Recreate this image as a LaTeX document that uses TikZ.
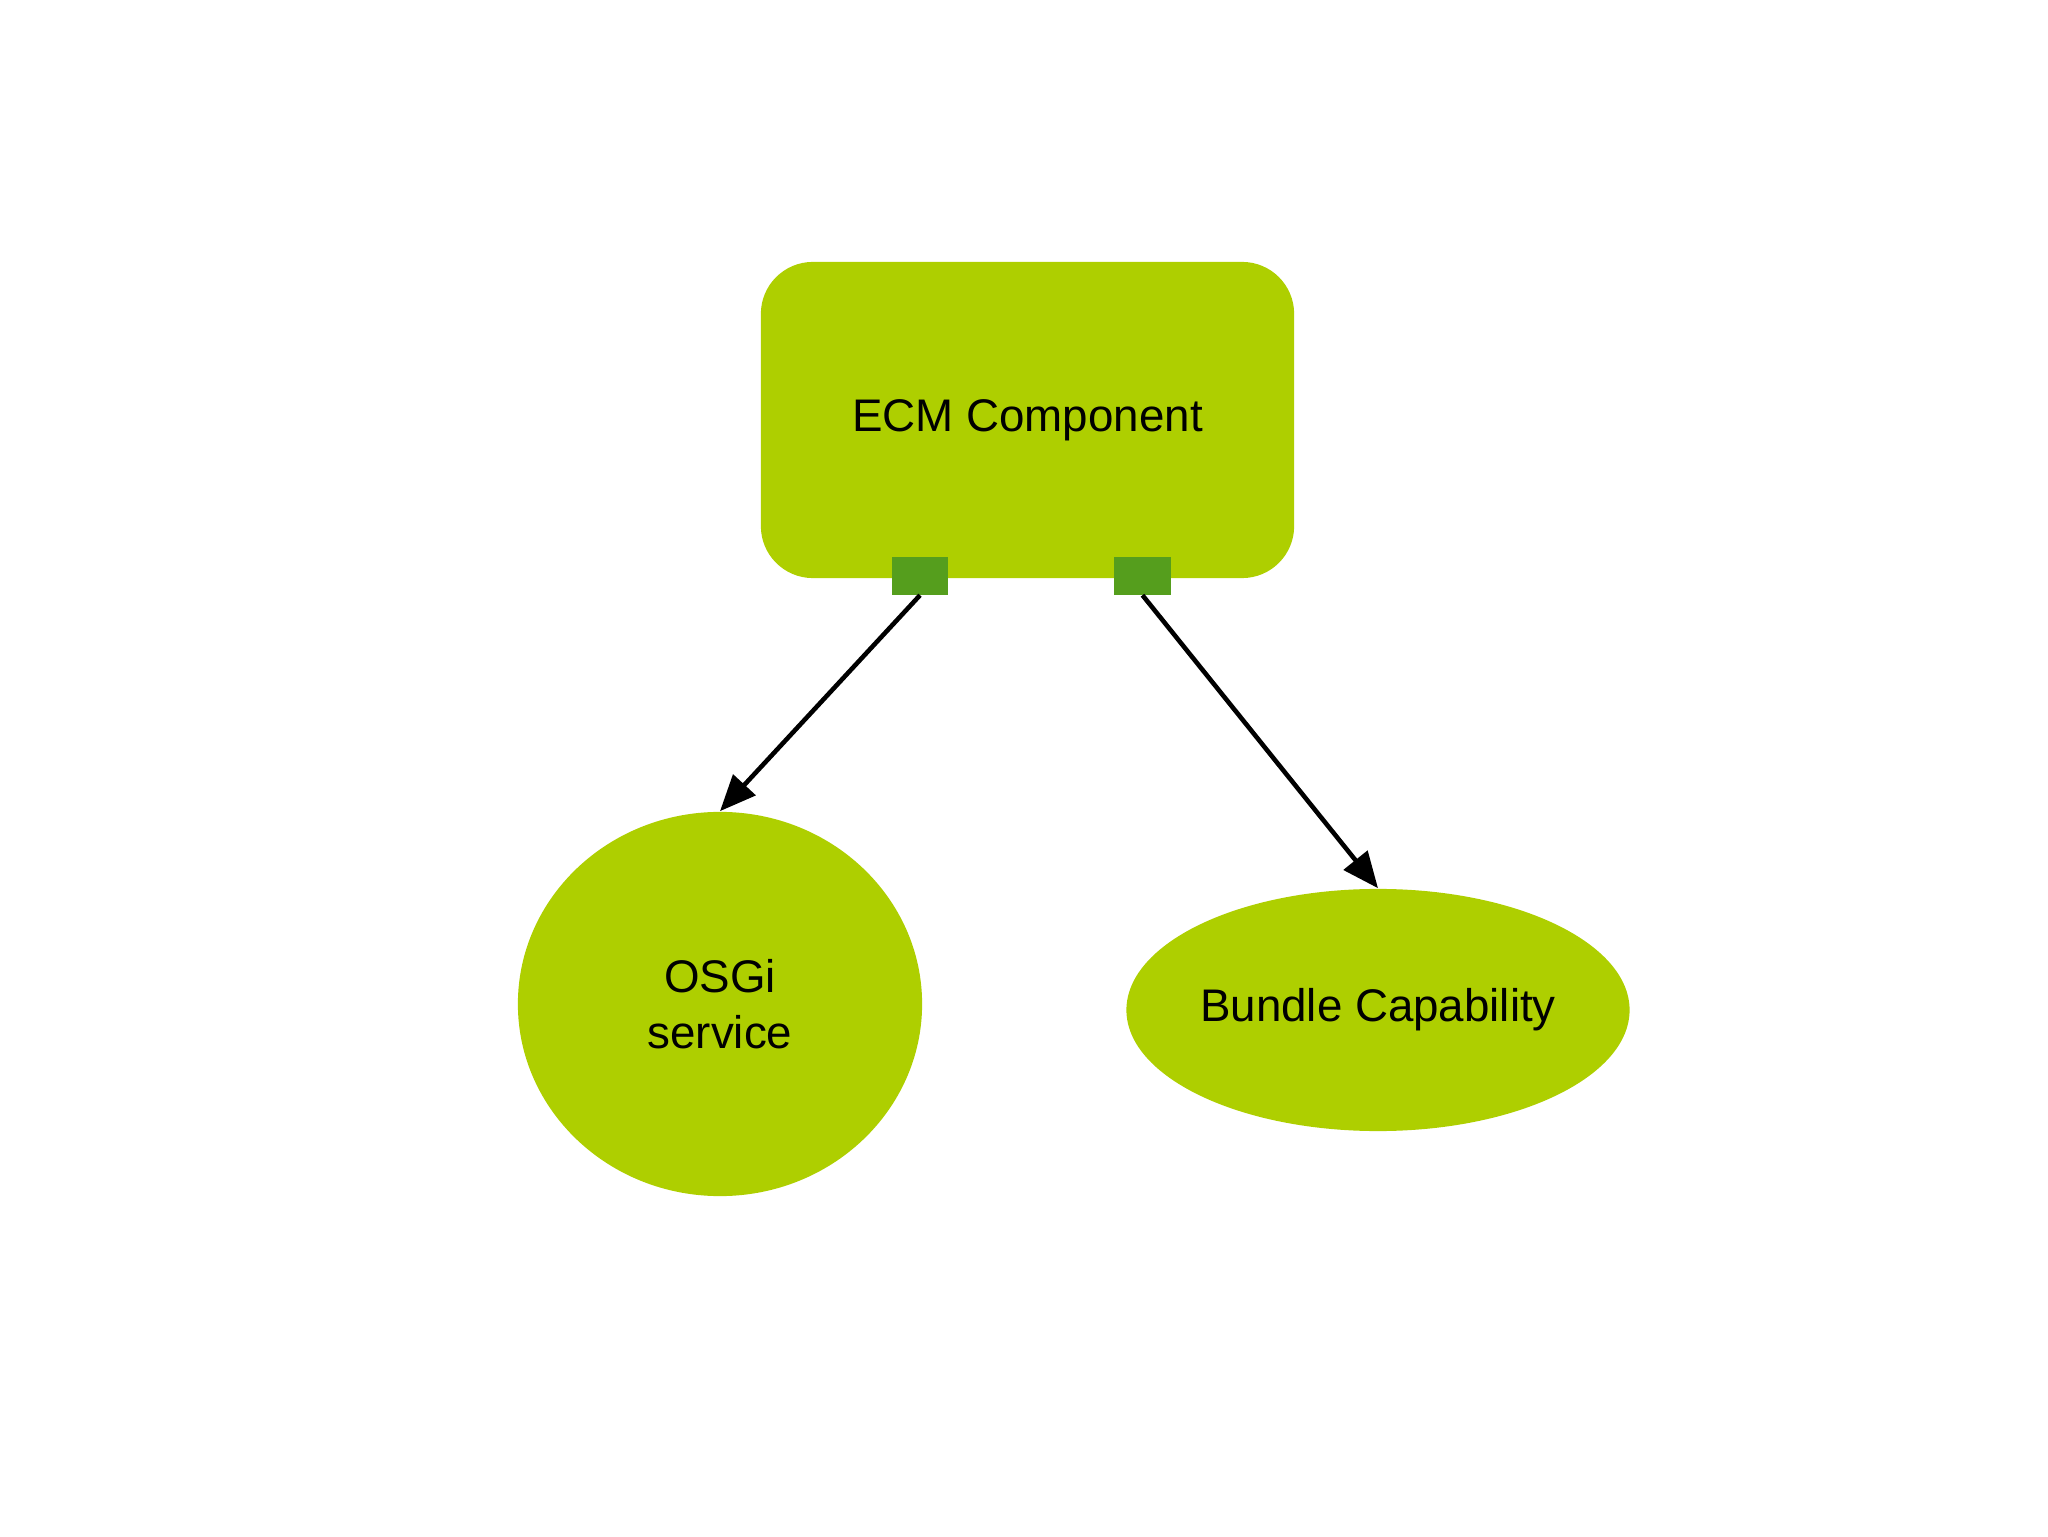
\documentclass[tikz,border=0pt]{standalone}
\usepackage{fontspec}
\setmainfont{Liberation Sans}
\usetikzlibrary{shapes.geometric,arrows.meta}
\definecolor{lime}{HTML}{AECF00}
\definecolor{portg}{HTML}{559E1D}
\begin{document}
\begin{tikzpicture}[x=0.01cm,y=-0.01cm,
  lbl/.style={font=\fontsize{13}{16}\selectfont,align=center},
  port/.style={fill=portg,draw=none,minimum width=0.56cm,minimum height=0.37cm,inner sep=0},
  blob/.style={ellipse,fill=lime,draw=none,inner sep=0},
  conn/.style={line width=1.3pt,-{Triangle[length=0.36cm,width=0.3cm]}}]
\useasboundingbox (0,0) rectangle (2048,1537);
\node[fill=lime,draw=none,rounded corners=0.52cm,minimum width=5.33cm,minimum height=3.16cm,lbl] (ecm) at (1027.5,420) {ECM Component};
\node[port] (p1) at (920,576) {};
\node[port] (p2) at (1142.5,576) {};
\node[blob,minimum width=4.04cm,minimum height=3.84cm,lbl] (osgi) at (720,1004) {OSGi\\service};
\node[blob,minimum width=4.04cm,minimum height=2.42cm,lbl] (bc) at (1378,1010) {Bundle Capability};
\draw[conn] (p1.south) -- (osgi.north);
\draw[conn] (p2.south) -- (bc.north);
\end{tikzpicture}
\end{document}
